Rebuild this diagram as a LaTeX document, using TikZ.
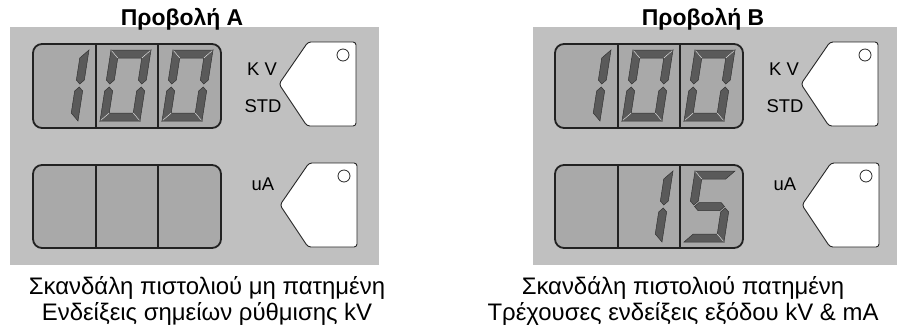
\documentclass[tikz,border=0pt]{standalone}
\usepackage{fontspec}
\setmainfont{Liberation Sans}
\definecolor{bg}{HTML}{C0C0C0}
\definecolor{lcd}{HTML}{A9A9A9}
\definecolor{seg}{HTML}{5A5A5A}
\definecolor{frame}{HTML}{222222}
\tikzset{
 panelbg/.style={fill=bg, draw=none},
 lcdbox/.style={fill=lcd, draw=frame, line width=1.8bp, rounded corners=9bp},
 divider/.style={draw=frame, line width=1.5bp},
 segment/.style={fill=seg, draw=black!80, line width=0.5bp, line join=miter},
 bevel/.style={draw=white!85!black, line width=0.6bp},
 keyshape/.style={fill=white, draw=black!85, line width=0.9bp},
 led/.style={draw=black!85, fill=white, line width=0.8bp},
 lbl/.style={font=\fontsize{18.5}{18.5}\selectfont, anchor=base, inner sep=0pt},
 ttl/.style={font=\bfseries\fontsize{23}{23}\selectfont, anchor=base, inner sep=0pt},
 captxt/.style={font=\fontsize{24}{24}\selectfont, anchor=base, inner sep=0pt},
}
\newcommand\SgA{\filldraw[segment] (0,-71) -- (40,-71) -- (32,-63) -- (8,-63) -- cycle;}
\newcommand\SgD{\filldraw[segment] (0,0) -- (40,0) -- (32,-8) -- (8,-8) -- cycle;}
\newcommand\SgF{\filldraw[segment] (0,-71) -- (8,-63) -- (8,-41) -- (4,-37) -- (0,-41) -- cycle;}
\newcommand\SgE{\filldraw[segment] (0,0) -- (8,-8) -- (8,-30) -- (4,-34) -- (0,-30) -- cycle;}
\newcommand\SgB{\filldraw[segment] (40,-71) -- (32,-63) -- (32,-41) -- (36,-37) -- (40,-41) -- cycle;}
\newcommand\SgC{\filldraw[segment] (40,0) -- (32,-8) -- (32,-30) -- (36,-34) -- (40,-30) -- cycle;}
\newcommand\SgG{\filldraw[segment] (5,-35.5) -- (9,-39.5) -- (31,-39.5) -- (35,-35.5) -- (31,-31.5) -- (9,-31.5) -- cycle;}
\newcommand\BvAF{\draw[bevel] (0.6,-70.4) -- (8,-63);}
\newcommand\BvAB{\draw[bevel] (39.4,-70.4) -- (32,-63);}
\newcommand\BvDE{\draw[bevel] (0.6,-0.6) -- (8,-8);}
\newcommand\BvDC{\draw[bevel] (39.4,-0.6) -- (32,-8);}
\newcommand\DigOne{\SgB\SgC}
\newcommand\DigZero{\SgA\SgB\SgC\SgD\SgE\SgF\BvAF\BvAB\BvDE\BvDC}
\newcommand\DigFive{\SgA\SgF\SgG\SgC\SgD\BvAF\BvDC}
\begin{document}
\begin{tikzpicture}[x=1bp,y=-1bp]
\useasboundingbox (0,0) rectangle (897,324);
% panel backgrounds
\fill[panelbg] (10,27) rectangle (379,265);
\fill[panelbg] (533,27) rectangle (897,265);
% ---------- Panel A ----------
\node[ttl] (titleA) at (182,25) {Προβολή A};
\draw[lcdbox] (33,44) rectangle (221,128);
\draw[divider] (96,43) -- (96,128);
\draw[divider] (158,44) -- (158,128);
\draw[lcdbox] (33,165) rectangle (221,248);
\draw[divider] (96,165) -- (96,248);
\draw[divider] (158,165) -- (158,248);
\begin{scope}[shift={(38,121)},xslant=0.155] \DigOne \end{scope}
\begin{scope}[shift={(100,121)},xslant=0.155] \DigZero \end{scope}
\begin{scope}[shift={(162,121)},xslant=0.155] \DigZero \end{scope}
\draw[keyshape, rounded corners=3bp] (279,84) -- (308,42) -- (356,42) -- (356,126) -- (307,126) -- cycle;
\draw[led] (343,55) circle (6);
\draw[keyshape, rounded corners=3bp] (280,205) -- (309,163) -- (357,163) -- (357,247) -- (308,247) -- cycle;
\draw[led] (344,176) circle (6);
\node[lbl] (kvA) at (262,75) {K V};
\node[lbl] (stdA) at (263,112) {STD};
\node[lbl] (uaA) at (263,190) {uA};
\node[captxt] (capA1) at (207,294) {Σκανδάλη πιστολιού μη πατημένη};
\node[captxt] (capA2) at (207,320) {Ενδείξεις σημείων ρύθμισης kV};
% ---------- Panel B ----------
\node[ttl] (titleB) at (703,25) {Προβολή B};
\draw[lcdbox] (555,44) rectangle (743,128);
\draw[divider] (618,43) -- (618,128);
\draw[divider] (680,44) -- (680,128);
\draw[lcdbox] (555,165) rectangle (743,248);
\draw[divider] (618,165) -- (618,248);
\draw[divider] (680,165) -- (680,248);
\begin{scope}[shift={(560,121)},xslant=0.155] \DigOne \end{scope}
\begin{scope}[shift={(622,121)},xslant=0.155] \DigZero \end{scope}
\begin{scope}[shift={(684,121)},xslant=0.155] \DigZero \end{scope}
\begin{scope}[shift={(622,242)},xslant=0.155] \DigOne \end{scope}
\begin{scope}[shift={(684,242)},xslant=0.155] \DigFive \end{scope}
\draw[keyshape, rounded corners=3bp] (801,84) -- (830,42) -- (878,42) -- (878,126) -- (829,126) -- cycle;
\draw[led] (865,55) circle (6);
\draw[keyshape, rounded corners=3bp] (802,205) -- (831,163) -- (879,163) -- (879,247) -- (830,247) -- cycle;
\draw[led] (866,176) circle (6);
\node[lbl] (kvB) at (784,75) {K V};
\node[lbl] (stdB) at (785,112) {STD};
\node[lbl] (uaB) at (785,190) {uA};
\node[captxt] (capB1) at (683,294) {Σκανδάλη πιστολιού πατημένη};
\node[captxt] (capB2) at (683,320) {Τρέχουσες ενδείξεις εξόδου kV \& mA};
\end{tikzpicture}
\end{document}
